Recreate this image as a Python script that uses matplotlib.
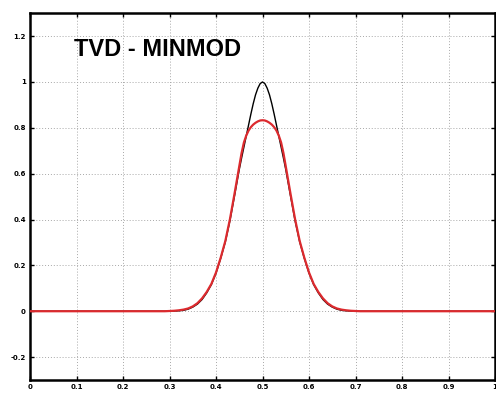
import numpy as np
import matplotlib
matplotlib.use("Agg")
import matplotlib.pyplot as plt

# distance from the centre x=0.5 and profile values
offsets = [0.000, 0.005, 0.010, 0.015, 0.020, 0.025, 0.030, 0.035, 0.040, 0.045,
           0.050, 0.060, 0.070, 0.080, 0.090, 0.100, 0.110, 0.120, 0.130, 0.140,
           0.150, 0.160, 0.170, 0.180, 0.190, 0.200, 0.210]
exact = [1.000, 0.993, 0.973, 0.944, 0.905, 0.860, 0.812, 0.764, 0.716, 0.668,
         0.618, 0.505, 0.395, 0.302, 0.230, 0.166, 0.116, 0.080, 0.051, 0.031,
         0.018, 0.009, 0.004, 0.002, 0.001, 0.000, 0.000]
minmod = [0.833, 0.832, 0.828, 0.822, 0.814, 0.803, 0.788, 0.766, 0.736, 0.690,
          0.632, 0.515, 0.402, 0.306, 0.233, 0.169, 0.119, 0.084, 0.056, 0.035,
          0.021, 0.012, 0.007, 0.004, 0.002, 0.001, 0.000]
center = 0.5
x_ticks = [0, 0.1, 0.2, 0.3, 0.4, 0.5, 0.6, 0.7, 0.8, 0.9, 1]
x_labels = ["0", "0.1", "0.2", "0.3", "0.4", "0.5", "0.6", "0.7", "0.8", "0.9", "1"]
y_ticks = [-0.2, 0, 0.2, 0.4, 0.6, 0.8, 1, 1.2]
y_labels = ["-0.2", "0", "0.2", "0.4", "0.6", "0.8", "1", "1.2"]
title = "TVD - MINMOD"


def full_profile(vals):
    d = np.array(offsets)
    v = np.array(vals)
    xs = np.concatenate([[0.0], center - d[::-1][:-1], [center], center + d[1:], [1.0]])
    ys = np.concatenate([[0.0], v[::-1][:-1], [v[0]], v[1:], [0.0]])
    return xs, ys


fig = plt.figure(figsize=(4.96, 3.97), dpi=100)
ax = fig.add_axes([0.0605, 0.0428, 0.9375, 0.924])

xe, ye = full_profile(exact)
xm, ym = full_profile(minmod)
ax.plot(xe, ye, color="black", lw=1.0, zorder=3)
ax.plot(xm, ym, color="#dc2a2e", lw=1.6, zorder=4)

ax.set_xlim(0, 1)
ax.set_ylim(-0.3, 1.3)
ax.set_xticks(x_ticks)
ax.set_xticklabels(x_labels)
ax.set_yticks(y_ticks)
ax.set_yticklabels(y_labels)
ax.tick_params(direction="in", length=3, width=1, top=True, right=True,
               labelsize=5, pad=3)
for lab in ax.get_xticklabels() + ax.get_yticklabels():
    lab.set_fontweight("bold")
ax.grid(True, linestyle=(0, (1, 2)), color="#a8a8a8", lw=0.7)
for s in ax.spines.values():
    s.set_linewidth(1.8)

ax.text(0.095, 1.143, title, fontsize=17, fontweight="bold",
        family="Liberation Sans", va="center", ha="left")

fig.savefig("out.png", dpi=100)
